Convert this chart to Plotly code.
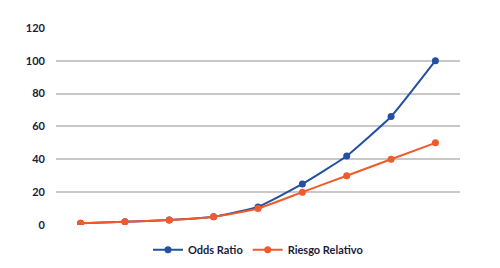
import plotly.graph_objects as go

categories = ["1", "2", "3", "4", "5", "6", "7", "8", "9"]
odds_ratio = [1, 2, 3, 5, 11, 25, 42, 66, 100]
riesgo_relativo = [1, 2, 3, 5, 10, 20, 30, 40, 50]
tick_vals = [0, 20, 40, 60, 80, 100, 120]

fig = go.Figure()
fig.add_trace(go.Scatter(x=categories, y=odds_ratio, name="Odds Ratio",
                         mode="lines+markers", line=dict(color="#2350A3", width=2, shape="spline", smoothing=0.4),
                         marker=dict(size=7, color="#2350A3")))
fig.add_trace(go.Scatter(x=categories, y=riesgo_relativo, name="Riesgo Relativo",
                         mode="lines+markers", line=dict(color="#F15A2B", width=2, shape="spline", smoothing=0.4),
                         marker=dict(size=7, color="#F15A2B")))

# page body has an 8px default margin, so the figure is 8px smaller and margins shifted
fig.update_layout(
    width=492, height=260,
    margin=dict(l=48, r=40, t=19, b=43, autoexpand=False),
    paper_bgcolor="white", plot_bgcolor="white",
    font=dict(family="Lato", size=11, color="#1b1b3a"),
    showlegend=True,
    legend=dict(orientation="h", x=0.5, xanchor="center", yref="container", y=0.07, yanchor="middle",
                font=dict(family="Lato", size=11, color="#1b1b3a", weight="bold"),
                itemwidth=30, tracegroupgap=0),
    xaxis=dict(type="category", showticklabels=False, showgrid=False, zeroline=False,
               showline=False, ticks="", automargin=False),
    yaxis=dict(range=[0, 120.5], tickvals=tick_vals, showgrid=True, gridcolor="#c8c8c8", gridwidth=1.5,
               zeroline=False, showline=False, ticks="", ticklabelstandoff=10, automargin=False,
               tickfont=dict(family="Lato", size=11, color="#1b1b3a", weight="bold")),
)

fig.write_html("out.html")
